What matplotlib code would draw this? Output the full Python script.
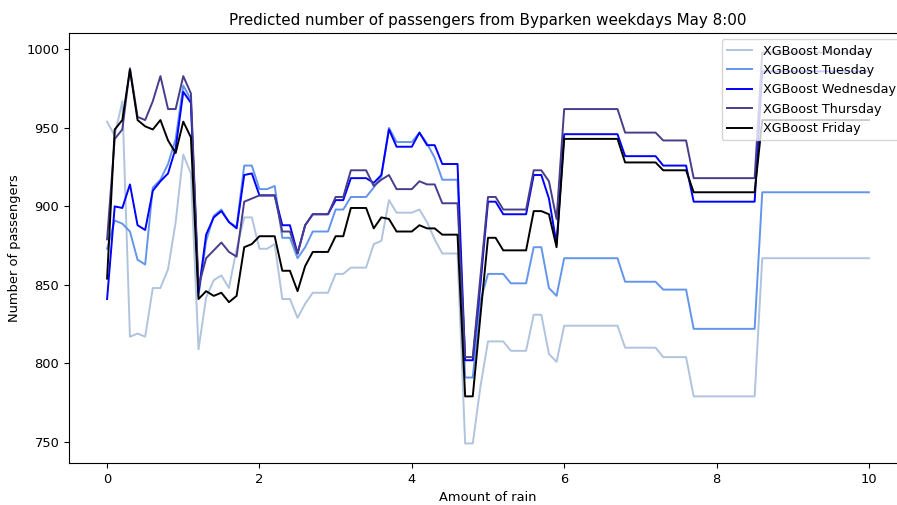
import numpy as np
import matplotlib
matplotlib.use("Agg")
import matplotlib.pyplot as plt

# Amount of rain (0.0 to 10.0, step 0.1)
rain = np.round(np.linspace(0, 10, 101), 1)

monday = [954, 945, 967, 817, 819, 817, 848, 848, 860, 890,
          933, 921, 809, 842, 853, 856, 848, 873, 893, 893,
          873, 873, 876, 841, 841, 829, 838, 845, 845, 845,
          857, 857, 861, 861, 861, 876, 878, 904, 896, 896,
          896, 898, 890, 879, 870, 870, 870, 749, 749, 785,
          814, 814, 814, 808, 808, 808, 831, 831, 806, 801,
          824, 824, 824, 824, 824, 824, 824, 824, 810, 810,
          810, 810, 810, 804, 804, 804, 804, 779, 779, 779,
          779, 779, 779, 779, 779, 779, 867, 867, 867, 867,
          867, 867, 867, 867, 867, 867, 867, 867, 867, 867, 867]

tuesday = [873, 891, 889, 884, 866, 863, 912, 917, 927, 943,
           977, 968, 843, 878, 894, 898, 890, 887, 926, 926,
           911, 911, 913, 880, 880, 867, 874, 884, 884, 884,
           898, 898, 906, 906, 906, 912, 919, 950, 941, 941,
           941, 947, 940, 931, 917, 917, 917, 791, 791, 840,
           857, 857, 857, 851, 851, 851, 874, 874, 848, 843,
           867, 867, 867, 867, 867, 867, 867, 867, 852, 852,
           852, 852, 852, 847, 847, 847, 847, 822, 822, 822,
           822, 822, 822, 822, 822, 822, 909, 909, 909, 909,
           909, 909, 909, 909, 909, 909, 909, 909, 909, 909, 909]

wednesday = [841, 900, 899, 914, 888, 885, 910, 916, 921, 937,
             973, 966, 845, 882, 893, 897, 890, 886, 920, 921,
             907, 907, 907, 888, 888, 870, 888, 895, 895, 895,
             904, 904, 918, 918, 918, 915, 920, 949, 938, 938,
             938, 947, 939, 939, 927, 927, 927, 802, 802, 850,
             903, 903, 895, 895, 895, 895, 920, 920, 905, 876,
             946, 946, 946, 946, 946, 946, 946, 946, 932, 932,
             932, 932, 932, 926, 926, 926, 926, 903, 903, 903,
             903, 903, 903, 903, 903, 903, 986, 986, 986, 986,
             986, 986, 986, 986, 986, 986, 986, 986, 986, 986, 986]

thursday = [879, 943, 949, 988, 957, 955, 967, 983, 962, 962,
            983, 972, 849, 867, 872, 877, 871, 868, 903, 905,
            907, 907, 907, 884, 884, 870, 888, 895, 895, 895,
            906, 906, 923, 923, 923, 913, 917, 920, 911, 911,
            911, 916, 914, 914, 902, 902, 902, 804, 804, 855,
            906, 906, 898, 898, 898, 898, 923, 923, 916, 892,
            962, 962, 962, 962, 962, 962, 962, 962, 947, 947,
            947, 947, 947, 942, 942, 942, 942, 918, 918, 918,
            918, 918, 918, 918, 918, 918, 998, 998, 998, 998,
            998, 998, 998, 998, 998, 998, 998, 998, 998, 998, 998]

friday = [854, 949, 955, 987, 955, 951, 949, 955, 942, 934,
          954, 944, 841, 846, 843, 845, 839, 843, 874, 876,
          881, 881, 881, 859, 859, 846, 862, 871, 871, 871,
          881, 881, 899, 899, 899, 886, 893, 892, 884, 884,
          884, 888, 886, 886, 882, 882, 882, 779, 779, 830,
          880, 880, 872, 872, 872, 872, 897, 897, 895, 874,
          943, 943, 943, 943, 943, 943, 943, 943, 928, 928,
          928, 928, 928, 923, 923, 923, 923, 909, 909, 909,
          909, 909, 909, 909, 909, 909, 955, 955, 955, 955,
          955, 955, 955, 955, 955, 955, 955, 955, 955, 955, 955]

series = [
    ("XGBoost Monday", monday, "lightsteelblue"),
    ("XGBoost Tuesday", tuesday, "cornflowerblue"),
    ("XGBoost Wednesday", wednesday, "blue"),
    ("XGBoost Thursday", thursday, "darkslateblue"),
    ("XGBoost Friday", friday, "black"),
]

plt.rcParams["font.size"] = 9.4
plt.rcParams["lines.linewidth"] = 1.4

fig = plt.figure(figsize=(8.97, 5.05), dpi=100)
# axes runs past the right edge, like the cropped original
ax = fig.add_axes([69 / 897, 42 / 505, 838 / 897, 430 / 505])

for label, values, color in series:
    ax.plot(rain, values, label=label, color=color)

ax.set_title("Predicted number of passengers from Byparken weekdays May 8:00",
             fontsize=10.9)
ax.set_xlabel("Amount of rain")
ax.set_ylabel("Number of passengers")
ax.legend(loc="upper right", fontsize=9.2)

fig.savefig("out.png", dpi=100)
